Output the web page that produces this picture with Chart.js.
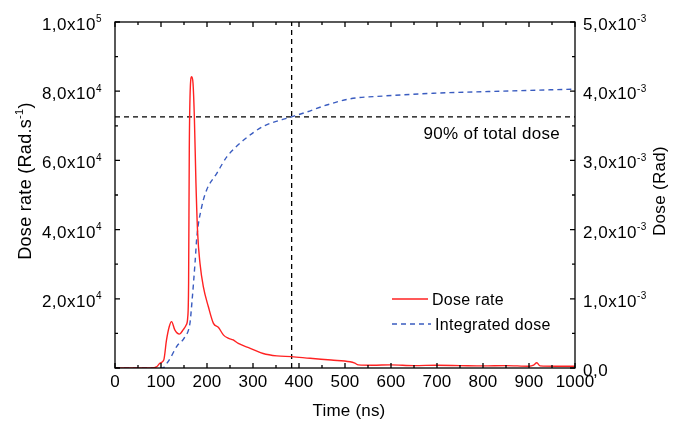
<!DOCTYPE html>
<html lang="en">
<head>
    <meta charset="UTF-8">
    <title>Dose rate and integrated dose</title>
    <script src="https://cdn.jsdelivr.net/npm/chart.js@4.4.1/dist/chart.umd.min.js"></script>
    <style>
        html, body {
            margin: 0;
            padding: 0;
            background: #fff;
        }
        .chart-container {
            width: 677px;
            height: 424px;
        }
    </style>
</head>
<body>
    <div class="chart-container">
        <canvas id="doseChart" width="677" height="424"></canvas>
    </div>

    <script>
        // dose rate (Rad/s) vs time (ns)
        const rateTime  = [0, 80, 90, 98, 106, 112, 118, 123, 130, 140, 148, 155, 158, 160, 161.5, 163.8, 166.7, 169.6, 172.5, 176, 179.7, 184.8, 192, 203, 214, 225, 236, 246, 257, 268, 294, 322, 352, 384, 424, 470, 511, 520, 529, 560, 600, 650, 700, 750, 800, 850, 900, 910, 917, 924, 960, 1000];
        const rateValue = [0, 0, 300, 1400, 2300, 8100, 12000, 13400, 11000, 9800, 11000, 12500, 14500, 24500, 63000, 81300, 84200, 82300, 72600, 53400, 38900, 30200, 23500, 17700, 12900, 11700, 9500, 8600, 8100, 7100, 5700, 4200, 3500, 3300, 2800, 2300, 1800, 1500, 900, 800, 900, 700, 800, 700, 600, 700, 500, 800, 1500, 600, 500, 500];

        // integrated dose (Rad) vs time (ns)
        const doseTime  = [0, 104, 112, 120, 134, 152, 163, 167, 174, 178, 188.5, 199, 221, 243, 279, 322, 384, 417, 460, 511, 583, 692, 837, 1000];
        const doseValue = [0, 0, 0.00006, 0.00014, 0.00031, 0.00045, 0.00065, 0.00093, 0.00152, 0.0019, 0.00233, 0.00257, 0.00281, 0.00305, 0.00329, 0.00349, 0.00363, 0.0037, 0.0038, 0.00389, 0.00393, 0.00397, 0.004, 0.00403];

        // 90% of total dose marker
        const t90 = 384;
        const dose90 = 0.00363;

        // axis ticks (labels split in mantissa part + exponent)
        const timeTicks = [0, 100, 200, 300, 400, 500, 600, 700, 800, 900, 1000];
        const timeTickLabels = ['0', '100', '200', '300', '400', '500', '600', '700', '800', '900', '1000'];
        const rateTicks = [0, 20000, 40000, 60000, 80000, 100000];
        const rateTickLabels = ['', '2,0x10', '4,0x10', '6,0x10', '8,0x10', '1,0x10'];
        const rateTickExp = ['', '4', '4', '4', '4', '5'];
        const doseTicks = [0, 0.001, 0.002, 0.003, 0.004, 0.005];
        const doseTickLabels = ['0,0', '1,0x10', '2,0x10', '3,0x10', '4,0x10', '5,0x10'];
        const doseTickExp = ['', '-3', '-3', '-3', '-3', '-3'];

        const FONT = "'Liberation Sans', Arial, sans-serif";

        const toPoints = (xs, ys) => xs.map((x, i) => ({ x: x, y: ys[i] }));

        // text with a raised exponent and optional tail; align 'left' | 'right' | 'center'
        function supText(ctx, main, sup, x, y, align, size, supSize, spacing, tail) {
            tail = tail || '';
            ctx.letterSpacing = spacing + 'px';
            ctx.font = size + 'px ' + FONT;
            const wm = ctx.measureText(main).width;
            const wt = tail ? ctx.measureText(tail).width : 0;
            ctx.font = supSize + 'px ' + FONT;
            const ws = sup ? ctx.measureText(sup).width : 0;
            const total = wm + ws + wt;
            let x0 = x;
            if (align === 'right') x0 = x - total;
            if (align === 'center') x0 = x - total / 2;
            ctx.textAlign = 'left';
            ctx.textBaseline = 'alphabetic';
            ctx.font = size + 'px ' + FONT;
            ctx.fillText(main, x0, y);
            if (tail) ctx.fillText(tail, x0 + wm + ws, y);
            if (sup) {
                ctx.font = supSize + 'px ' + FONT;
                ctx.fillText(sup, x0 + wm, y - size * 0.45);
            }
            ctx.letterSpacing = '0px';
        }

        // frame, inward ticks, tick labels, titles, legend, note
        const decorations = {
            id: 'decorations',
            afterDraw(chart) {
                const ctx = chart.ctx;
                const a = chart.chartArea;
                const sx = chart.scales.x, sy = chart.scales.y, sy1 = chart.scales.y1;
                ctx.save();
                ctx.strokeStyle = '#000';
                ctx.lineWidth = 1.3;
                ctx.setLineDash([]);
                ctx.strokeRect(a.left, a.top, a.right - a.left, a.bottom - a.top);

                ctx.beginPath();
                for (let t = 0; t <= 1000; t += 50) {
                    const px = sx.getPixelForValue(t);
                    const len = t % 100 === 0 ? 5 : 3;
                    ctx.moveTo(px, a.bottom); ctx.lineTo(px, a.bottom - len);
                    ctx.moveTo(px, a.top); ctx.lineTo(px, a.top + len);
                }
                for (let v = 0; v <= 100000; v += 10000) {
                    const py = sy.getPixelForValue(v);
                    const len = v % 20000 === 0 ? 5 : 3;
                    ctx.moveTo(a.left, py); ctx.lineTo(a.left + len, py);
                }
                for (let k = 0; k <= 10; k++) {
                    const py = sy1.getPixelForValue(k * 0.0005);
                    const len = k % 2 === 0 ? 5 : 3;
                    ctx.moveTo(a.right, py); ctx.lineTo(a.right - len, py);
                }
                ctx.stroke();

                ctx.fillStyle = '#000';

                // tick labels
                timeTicks.forEach((t, i) => {
                    supText(ctx, timeTickLabels[i], '', sx.getPixelForValue(t), a.bottom + 19, 'center', 17, 10, 0.2);
                });
                rateTicks.forEach((v, i) => {
                    supText(ctx, rateTickLabels[i], rateTickExp[i], a.left - 13, sy.getPixelForValue(v) + 8, 'right', 17, 10, 0.5);
                });
                doseTicks.forEach((v, i) => {
                    supText(ctx, doseTickLabels[i], doseTickExp[i], a.right + 8, sy1.getPixelForValue(v) + 8, 'left', 17, 10, 0.5);
                });

                // x title
                supText(ctx, 'Time (ns)', '', 349, 416, 'center', 17, 11, 0.2);

                // left title
                ctx.save();
                ctx.translate(31, 181);
                ctx.rotate(-Math.PI / 2);
                supText(ctx, 'Dose rate (Rad.s', '-1', 0, 0, 'center', 18, 11, 0.3, ')');
                ctx.restore();

                // right title
                ctx.save();
                ctx.translate(665, 191);
                ctx.rotate(-Math.PI / 2);
                supText(ctx, 'Dose (Rad)', '', 0, 0, 'center', 17, 11, 0.3);
                ctx.restore();

                // note
                supText(ctx, '90% of total dose', '', 560, 139, 'right', 17, 11, 0.3);

                // legend
                ctx.lineWidth = 1.5;
                ctx.strokeStyle = chart.data.datasets[0].borderColor;
                ctx.beginPath();
                ctx.moveTo(392, 299); ctx.lineTo(428, 299);
                ctx.stroke();
                supText(ctx, chart.data.datasets[0].label, '', 432, 305, 'left', 16, 11, 0.3);
                ctx.strokeStyle = chart.data.datasets[1].borderColor;
                ctx.setLineDash([5, 4]);
                ctx.beginPath();
                ctx.moveTo(392, 324); ctx.lineTo(431, 324);
                ctx.stroke();
                ctx.setLineDash([]);
                supText(ctx, chart.data.datasets[1].label, '', 435, 330, 'left', 16, 11, 0.3);
                ctx.restore();
            }
        };

        const ctx = document.getElementById('doseChart').getContext('2d');
        const chart = new Chart(ctx, {
            type: 'line',
            data: {
                datasets: [{
                    label: 'Dose rate',
                    data: toPoints(rateTime, rateValue),
                    yAxisID: 'y',
                    borderColor: '#ff2222',
                    borderWidth: 1.4,
                    pointRadius: 0,
                    cubicInterpolationMode: 'monotone'
                }, {
                    label: 'Integrated dose',
                    data: toPoints(doseTime, doseValue),
                    yAxisID: 'y1',
                    borderColor: '#3a5cc0',
                    borderWidth: 1.4,
                    borderDash: [5, 4],
                    pointRadius: 0,
                    cubicInterpolationMode: 'monotone'
                }, {
                    label: '90% level',
                    data: [{ x: 0, y: dose90 }, { x: 1000, y: dose90 }],
                    yAxisID: 'y1',
                    borderColor: '#000',
                    borderWidth: 1.3,
                    borderDash: [5, 4],
                    pointRadius: 0
                }, {
                    label: '90% time',
                    data: [{ x: t90, y: 0 }, { x: t90, y: 0.005 }],
                    yAxisID: 'y1',
                    borderColor: '#000',
                    borderWidth: 1.3,
                    borderDash: [5, 4],
                    pointRadius: 0
                }]
            },
            options: {
                responsive: false,
                animation: false,
                maintainAspectRatio: false,
                layout: { padding: { top: 22, left: 0, right: 0, bottom: 0 } },
                plugins: {
                    legend: { display: false },
                    tooltip: { enabled: false }
                },
                scales: {
                    x: {
                        type: 'linear',
                        min: 0,
                        max: 1000,
                        afterBuildTicks: s => { s.ticks = timeTicks.map(v => ({ value: v })); },
                        afterFit: s => { s.height = 56; },
                        grid: { display: false, drawTicks: false },
                        border: { display: false },
                        ticks: { display: false }
                    },
                    y: {
                        position: 'left',
                        min: 0,
                        max: 100000,
                        afterBuildTicks: s => { s.ticks = rateTicks.map(v => ({ value: v })); },
                        afterFit: s => { s.width = 115; },
                        grid: { display: false, drawTicks: false },
                        border: { display: false },
                        ticks: { display: false }
                    },
                    y1: {
                        position: 'right',
                        min: 0,
                        max: 0.005,
                        afterBuildTicks: s => { s.ticks = doseTicks.map(v => ({ value: v })); },
                        afterFit: s => { s.width = 102; },
                        grid: { display: false, drawTicks: false },
                        border: { display: false },
                        ticks: { display: false }
                    }
                }
            },
            plugins: [decorations]
        });
    </script>
</body>
</html>
